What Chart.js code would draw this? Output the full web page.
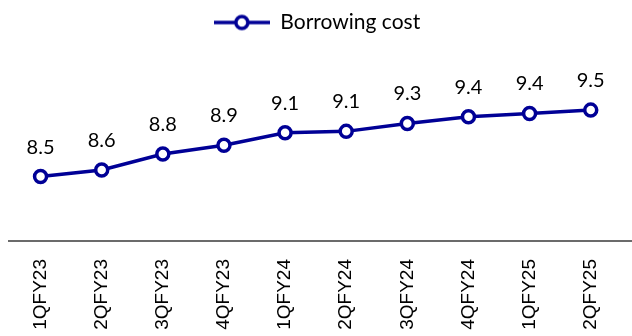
<!DOCTYPE html>
<html>
<head>
<meta charset="utf-8">
<script src="https://cdn.jsdelivr.net/npm/chart.js@4/dist/chart.umd.min.js"></script>
<style>
  html, body { margin: 0; padding: 0; background: #fff; }
  #wrap { width: 632px; height: 336px; }
</style>
</head>
<body>
<div id="wrap"><canvas id="c" width="632" height="336"></canvas></div>
<script>
const categories = ["1QFY23","2QFY23","3QFY23","4QFY23","1QFY24","2QFY24","3QFY24","4QFY24","1QFY25","2QFY25"];
const borrowingCost = [8.46, 8.56, 8.80, 8.93, 9.12, 9.14, 9.26, 9.36, 9.41, 9.46];
const seriesName = "Borrowing cost";

const LINE = "#000096";

// legend icon: line with hollow circle
function legendIcon() {
  const cv = document.createElement("canvas");
  cv.width = 56; cv.height = 18;
  const g = cv.getContext("2d");
  g.strokeStyle = LINE; g.lineWidth = 3.5;
  g.beginPath(); g.moveTo(0, 9); g.lineTo(56, 9); g.stroke();
  g.fillStyle = "#fff";
  g.beginPath(); g.arc(28, 9, 6, 0, Math.PI * 2); g.fill(); g.stroke();
  return cv;
}

const valueLabels = {
  id: "valueLabels",
  afterDatasetsDraw(chart) {
    const ctx = chart.ctx;
    const meta = chart.getDatasetMeta(0);
    ctx.save();
    ctx.font = "20px Lato";
    ctx.fillStyle = "#000";
    ctx.textAlign = "center";
    ctx.textBaseline = "alphabetic";
    meta.data.forEach((pt, i) => {
      const v = chart.data.datasets[0].data[i];
      ctx.fillText(v.toFixed(1), pt.x, pt.y - 23);
    });
    ctx.restore();
  }
};

const axisLine = {
  id: "axisLine",
  beforeDatasetsDraw(chart) {
    const ctx = chart.ctx;
    const y = chart.chartArea.bottom;
    ctx.save();
    ctx.strokeStyle = "#3a3a3a";
    ctx.lineWidth = 1.6;
    ctx.beginPath(); ctx.moveTo(8, y); ctx.lineTo(chart.width, y); ctx.stroke();
    ctx.restore();
  }
};

new Chart(document.getElementById("c"), {
  type: "line",
  data: {
    labels: categories,
    datasets: [{
      label: seriesName,
      data: borrowingCost,
      borderColor: LINE,
      backgroundColor: "#fff",
      borderWidth: 3.5,
      pointRadius: 6,
      pointBorderWidth: 3.5,
      pointBackgroundColor: "#fff",
      pointBorderColor: LINE,
      pointStyle: "circle",
      tension: 0
    }]
  },
  options: {
    responsive: false,
    animation: false,
    layout: { padding: { left: 10, right: 8, top: 0, bottom: 0 } },
    plugins: {
      legend: {
        display: true,
        position: "top",
        labels: {
          usePointStyle: true,
          pointStyle: legendIcon(),
          pointStyleWidth: 56,
          boxHeight: 18,
          font: { family: "Lato", size: 21 },
          color: "#000",
          padding: 12
        }
      },
      tooltip: { enabled: false }
    },
    scales: {
      x: {
        offset: true,
        grid: { display: false, drawTicks: false },
        border: { display: false },
        afterFit: (scale) => { scale.height = 95; },
        ticks: {
          minRotation: 90, maxRotation: 90,
          padding: 18,
          color: "#000",
          font: { family: "Liberation Sans", size: 19 }
        }
      },
      y: {
        display: false,
        min: 7.49,
        max: 10.47
      }
    }
  },
  plugins: [valueLabels, axisLine]
});
</script>
</body>
</html>
